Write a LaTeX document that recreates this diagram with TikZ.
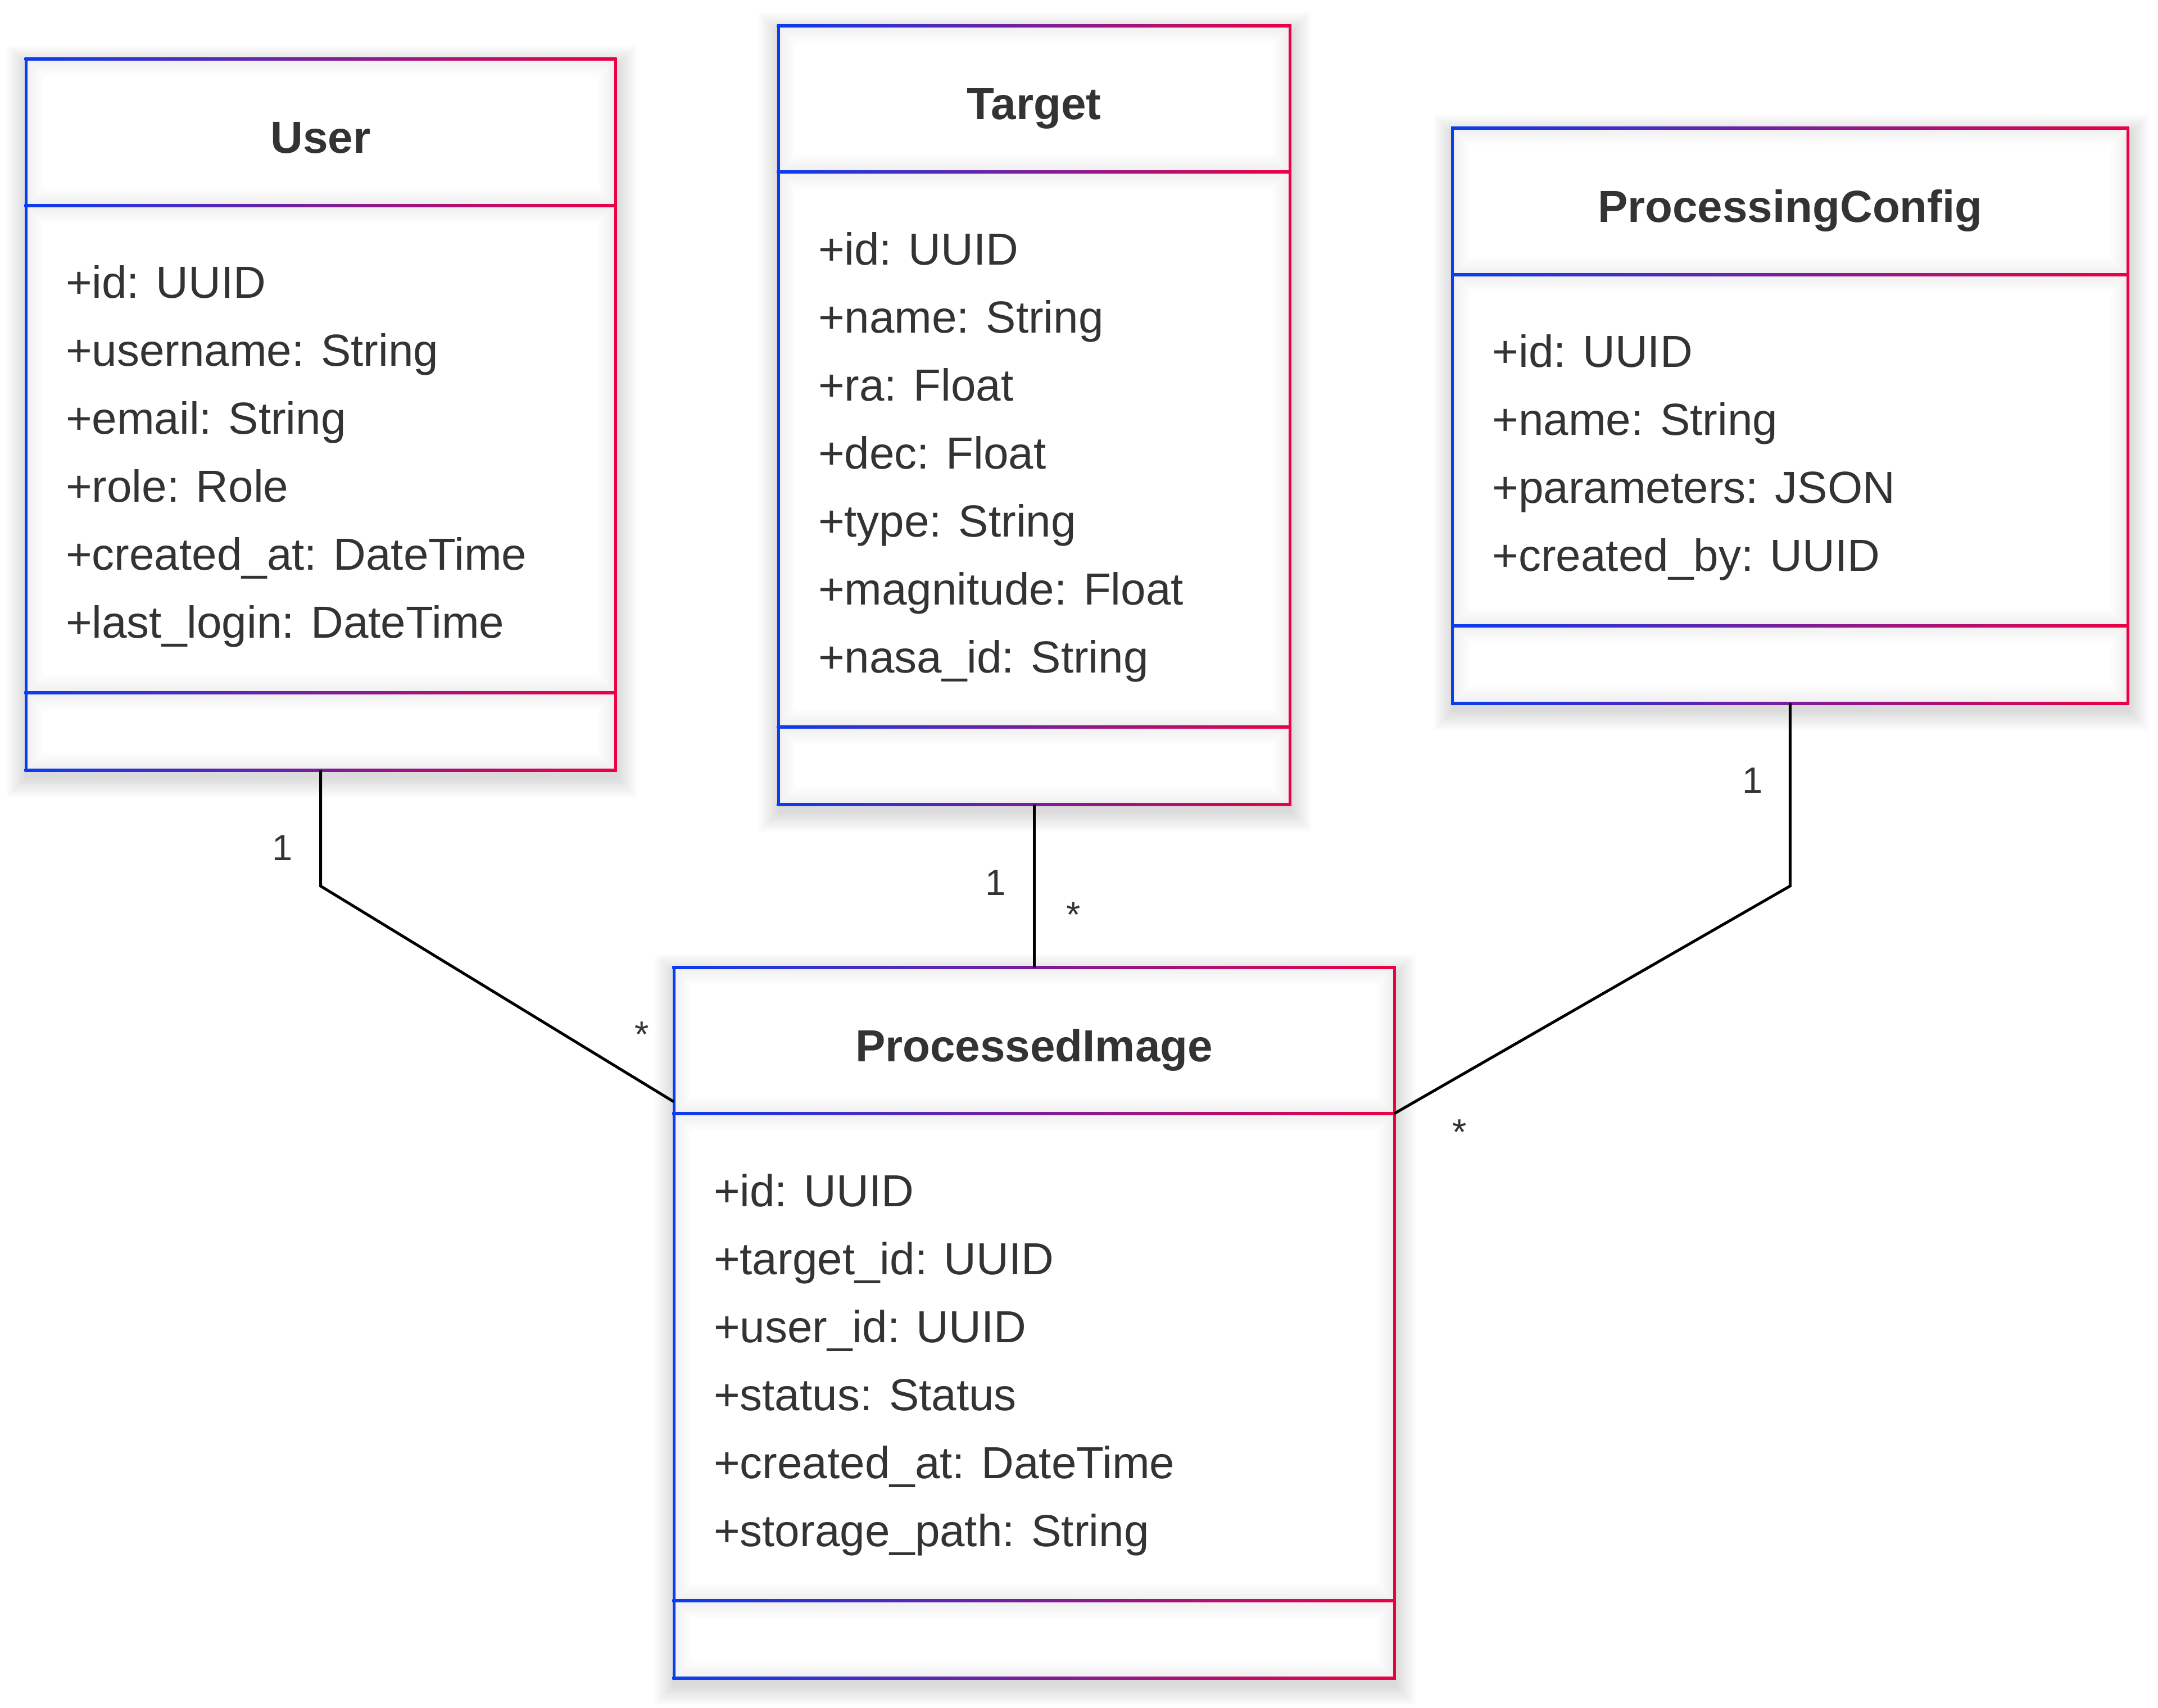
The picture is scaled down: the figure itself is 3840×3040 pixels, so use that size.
\documentclass[tikz,border=0pt]{standalone}
\usepackage{fontspec}
\setmainfont{Liberation Sans}
\usetikzlibrary{calc}
\definecolor{cblue}{HTML}{0A3CF0}
\definecolor{cred}{HTML}{EC0044}
\definecolor{ctext}{HTML}{333333}
\tikzset{
  classbg/.style={fill=white, draw=none, inner sep=0pt, outer sep=0pt, anchor=north west},
  titletext/.style={font=\fontsize{16}{19}\selectfont\bfseries, text=ctext, inner sep=0pt, anchor=base},
  attrtext/.style={font=\fontsize{16}{19}\selectfont, text=ctext, inner sep=0pt, anchor=base west},
  mult/.style={font=\fontsize{13}{15}\selectfont, text=ctext, inner sep=0pt, anchor=base},
  conn/.style={draw=black, line width=1pt},
  shadowlayer/.style={fill=black, opacity=0.013},
  innershade/.style={draw=black, opacity=0.012},
}
% #1 name, #2 L, #3 T, #4 R, #5 header line, #6 divider, #7 bottom, #8 title
\newcommand\umlclass[8]{%
  \foreach \k in {1,...,12} {%
    \fill[shadowlayer] ({#2-\k*3+2},{-#3+\k*3-12}) rectangle ({#4+\k*3+2},{-#7-\k*3-12});
  }
  \node[classbg, minimum width={(#4-#2)*0.2pt}, minimum height={(#7-#3)*0.2pt}] (#1) at (#2,-#3) {};
  \foreach \a/\b in {#3/#5,#5/#6,#6/#7} {%
    \begin{scope}
      \clip (#2,-\a) rectangle (#4,-\b);
      \foreach \w in {12,24,36,48,60} {\draw[innershade, line width=\w*0.2pt] (#2,-\a) rectangle (#4,-\b);}
    \end{scope}
  }
  \fill[cblue] ({#2-2.5},{-#3+2.5}) rectangle ({#2+2.5},{-#7-2.5});
  \fill[cred] ({#4-2.5},{-#3+2.5}) rectangle ({#4+2.5},{-#7-2.5});
  \foreach \y in {#3,#5,#6,#7} {%
    \shade[left color=cblue, right color=cred] ({#2-2.5},{-\y-2.5}) rectangle ({#4+2.5},{-\y+2.5});
  }
  \node[titletext] (#1-title) at ({(#2+#4)/2},{-#3-167}) {#8};
}
% #1 name, #2 L, #3 header line, #4 list
\newcommand\umlattrs[4]{%
  \foreach \t [count=\i from 0] in {#4} {%
    \node[attrtext] (#1-a\i) at ({#2+70},{-#3-165-121*\i}) {\t};
  }
}
\begin{document}
\begin{tikzpicture}[x=0.2pt, y=0.2pt]
\fill[white] (0,0) rectangle (3840,-3040);
\useasboundingbox (0,0) rectangle (3840,-3040);

\umlclass{user}{46}{105}{1095}{365.5}{1232.5}{1370.5}{User}
\umlattrs{user}{46}{365.5}{+id: UUID,+username: String,+email: String,+role: Role,+created\_at: DateTime,+last\_login: DateTime}

\umlclass{target}{1385}{45.5}{2295}{306}{1294}{1432}{Target}
\umlattrs{target}{1385}{306}{+id: UUID,+name: String,+ra: Float,+dec: Float,+type: String,+magnitude: Float,+nasa\_id: String}

\umlclass{pconf}{2584.5}{228}{3786}{488.5}{1113.5}{1251.5}{ProcessingConfig}
\umlattrs{pconf}{2584.5}{488.5}{+id: UUID,+name: String,+parameters: JSON,+created\_by: UUID}

\umlclass{pimg}{1199}{1722}{2481}{1982}{2849}{2987}{ProcessedImage}
\umlattrs{pimg}{1199}{1982}{+id: UUID,+target\_id: UUID,+user\_id: UUID,+status: Status,+created\_at: DateTime,+storage\_path: String}

% connectors
\draw[conn] (user.south) -- ++(0,-206.5) -- ($(pimg.north west)+(0,-239)$);
\draw[conn] (target.south) -- (pimg.north);
\draw[conn] (pconf.south) -- ++(0,-325.5) -- ($(pimg.north east)+(0,-260)$);

% multiplicities
\node[mult] (m1) at (503,-1531.5) {1};
\node[mult] (m2) at (1142,-1863) {*};
\node[mult] (m3) at (1772,-1593) {1};
\node[mult] (m4) at (1910,-1650) {*};
\node[mult] (m5) at (3119,-1411) {1};
\node[mult] (m6) at (2597,-2037) {*};
\end{tikzpicture}
\end{document}
